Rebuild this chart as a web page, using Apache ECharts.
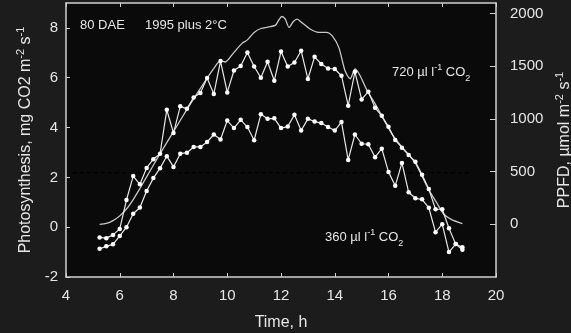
<!DOCTYPE html>
<html>
<head>
<meta charset="utf-8">
<script src="https://cdn.jsdelivr.net/npm/echarts@6/dist/echarts.min.js"></script>
<style>
  html, body { margin: 0; padding: 0; background: #1c1c1c; }
  #main { width: 571px; height: 333px; }
</style>
</head>
<body>
<div id="main"></div>
<script>
  // time of each measurement, h
  var hours = [5.25, 5.5, 5.75, 6.0, 6.25, 6.5, 6.75, 7.0, 7.25, 7.5, 7.75, 8.0, 8.25, 8.5, 8.75,
    9.0, 9.25, 9.5, 9.75, 10.0, 10.25, 10.5, 10.75, 11.0, 11.25, 11.5, 11.75, 12.0, 12.25, 12.5,
    12.75, 13.0, 13.25, 13.5, 13.75, 14.0, 14.25, 14.5, 14.75, 15.0, 15.25, 15.5, 15.75, 16.0,
    16.25, 16.5, 16.75, 17.0, 17.25, 17.5, 17.75, 18.0, 18.25, 18.5, 18.75];

  // photosynthesis at 720 ul/l CO2
  var co2High = [-0.41, -0.44, -0.31, -0.07, 1.09, 2.05, 1.72, 2.38, 2.73, 2.95, 4.71, 3.78, 4.85, 4.75, 5.21,
    5.39, 5.99, 5.35, 6.67, 5.41, 6.29, 6.47, 7.01, 6.45, 6.0, 6.64, 5.88, 7.05, 6.45, 6.61,
    7.08, 5.95, 6.84, 6.55, 6.37, 6.35, 6.08, 4.88, 6.24, 5.13, 5.44, 4.79, 4.47, 4.03,
    3.50, 3.19, 2.90, 2.63, 2.10, 1.53, 0.72, 0.72, -0.04, -0.68, -0.81];

  // photosynthesis at 360 ul/l CO2
  var co2Low = [-0.87, -0.77, -0.69, -0.35, 0.0, 0.54, 0.79, 1.45, 1.97, 2.37, 2.85, 2.42, 2.95, 2.99, 3.22,
    3.22, 3.42, 3.72, 3.52, 4.28, 3.98, 4.31, 4.02, 3.49, 4.53, 4.35, 4.37, 3.98, 4.04, 4.51,
    3.88, 4.35, 4.24, 4.18, 4.02, 3.88, 4.22, 2.70, 3.72, 3.35, 3.33, 2.81, 3.15, 2.22,
    1.66, 2.58, 1.40, 1.16, 1.12, 0.78, -0.20, 0.12, -1.00, -0.68, -0.91];

  // PPFD trace
  var ppfdHours = [5.25, 5.5, 5.75, 6.0, 6.25, 6.5, 6.75, 7.0, 7.5, 8.0, 8.5, 9.0, 9.5, 9.75, 9.92,
    10.25, 10.55, 10.75, 11.0, 11.25, 11.6, 11.8, 11.92, 12.03, 12.16, 12.3, 12.46, 12.6, 12.77,
    13.08, 13.4, 13.7, 13.9, 14.15, 14.38, 14.57, 14.76, 14.94, 15.2, 15.5, 15.8, 16.2, 16.7,
    17.0, 17.5, 17.8, 18.05, 18.35, 18.75];
  var ppfdValues = [0, 8, 35, 80, 145, 235, 340, 450, 670, 880, 1090, 1290, 1480, 1550, 1540,
    1632, 1717, 1750, 1821, 1858, 1875, 1890, 1940, 1972, 1947, 1868, 1925, 1947, 1915,
    1853, 1821, 1821, 1790, 1679, 1459, 1381, 1475, 1412, 1271, 1145, 1004, 830, 674,
    579, 327, 202, 98, 44, 7];

  // dashed reference level (PPFD)
  var refHours = [4.25, 19.05];
  var refLevel = 490;

  function pairs(xs, ys) {
    var out = [];
    for (var i = 0; i < xs.length; i++) out.push([xs[i], ys[i]]);
    return out;
  }

  var font = 'Liberation Sans, Arial, sans-serif';
  var axisCol = '#d0d0d0';
  var textCol = '#e6e6e6';
  var rich = {
    n: {fontSize: 16, color: textCol, fontFamily: font, lineHeight: 18, verticalAlign: 'bottom'},
    sup: {fontSize: 11, color: textCol, fontFamily: font, lineHeight: 18, verticalAlign: 'top'}
  };
  // graphic text wants zrender style names (fill instead of color)
  var small = {
    n: {fontSize: 13, fill: textCol, fontFamily: font, lineHeight: 16, verticalAlign: 'bottom'},
    sup: {fontSize: 9, fill: textCol, fontFamily: font, lineHeight: 16, verticalAlign: 'top'},
    sub: {fontSize: 9, fill: textCol, fontFamily: font, lineHeight: 12, verticalAlign: 'bottom', padding: [0, 0, -4, 0]}
  };

  var chart = echarts.init(document.getElementById('main'));
  var option = {
    backgroundColor: '#1c1c1c',
    animation: false,
    grid: {left: 66, right: 75, top: 3, bottom: 56, show: true, backgroundColor: '#0a0a0a',
      borderWidth: 0, outerBoundsMode: 'none', containLabel: false},
    xAxis: [{
      type: 'value', min: 4, max: 20, interval: 2,
      name: 'Time, h', nameLocation: 'middle', nameGap: 38,
      nameTextStyle: {color: textCol, fontSize: 16, fontFamily: font},
      axisLine: {onZero: false, lineStyle: {color: axisCol, width: 1.5}},
      axisTick: {inside: true, length: 4, lineStyle: {color: axisCol}},
      axisLabel: {color: textCol, fontSize: 15, fontFamily: font, margin: 11},
      splitLine: {show: false}
    }, {
      type: 'value', position: 'top', min: 4, max: 20, interval: 2,
      axisLine: {show: true, onZero: false, lineStyle: {color: axisCol, width: 1.5}},
      axisTick: {inside: true, length: 4, lineStyle: {color: axisCol}},
      axisLabel: {show: false},
      splitLine: {show: false}
    }],
    yAxis: [{
      type: 'value', min: -2, max: 9, interval: 2,
      name: '{n|Photosynthesis, mg CO2 m}{sup|-2}{n| s}{sup|-1}',
      nameLocation: 'middle', nameGap: 30, nameRotate: 90,
      nameTextStyle: {rich: rich},
      axisLine: {show: true, onZero: false, lineStyle: {color: axisCol, width: 1.5}},
      axisTick: {show: true, inside: true, length: 4, lineStyle: {color: axisCol}},
      axisLabel: {color: textCol, fontSize: 15, fontFamily: font, margin: 8, showMaxLabel: false},
      splitLine: {show: false}
    }, {
      type: 'value', min: -500, max: 2100, interval: 500, position: 'right',
      name: '{n|PPFD, \u00b5mol m}{sup|-2}{n| s}{sup|-1}',
      nameLocation: 'middle', nameGap: 56, nameRotate: 90,
      nameTextStyle: {rich: rich},
      axisLine: {show: true, onZero: false, lineStyle: {color: axisCol, width: 1.5}},
      axisTick: {show: true, inside: true, length: 6, lineStyle: {color: axisCol}},
      axisLabel: {color: textCol, fontSize: 15, fontFamily: font, margin: 14,
        showMinLabel: false, showMaxLabel: false,
        formatter: function (v) { return String(v); }},
      splitLine: {show: false}
    }],
    series: [{
      name: 'ref', type: 'line', yAxisIndex: 1, symbol: 'none',
      data: pairs(refHours, [refLevel, refLevel]),
      lineStyle: {color: '#000', width: 1.5, type: [4, 3]}
    }, {
      name: 'PPFD', type: 'line', yAxisIndex: 1, symbol: 'none', smooth: 0.25,
      data: pairs(ppfdHours, ppfdValues),
      lineStyle: {color: '#c8c8c8', width: 1.3}
    }, {
      name: '720', type: 'line', symbol: 'circle', symbolSize: 4.5,
      data: pairs(hours, co2High),
      itemStyle: {color: '#ffffff'},
      lineStyle: {color: '#e8e8e8', width: 1.2}
    }, {
      name: '360', type: 'line', symbol: 'circle', symbolSize: 4.5,
      data: pairs(hours, co2Low),
      itemStyle: {color: '#ffffff'},
      lineStyle: {color: '#e8e8e8', width: 1.2}
    }],
    graphic: [
      {type: 'text', left: 80, top: 19, style: {text: '80 DAE', fill: textCol, font: '13px ' + font}},
      {type: 'text', left: 145, top: 19, style: {text: '1995 plus 2\u00b0C', fill: textCol, font: '13px ' + font}},
      {type: 'text', left: 392, top: 63, style: {text: '{n|720 \u00b5l l}{sup|-1}{n| CO}{sub|2}', fill: textCol, rich: small}},
      {type: 'text', left: 325, top: 228, style: {text: '{n|360 \u00b5l l}{sup|-1}{n| CO}{sub|2}', fill: textCol, rich: small}}
    ]
  };
  chart.setOption(option);
</script>
</body>
</html>
